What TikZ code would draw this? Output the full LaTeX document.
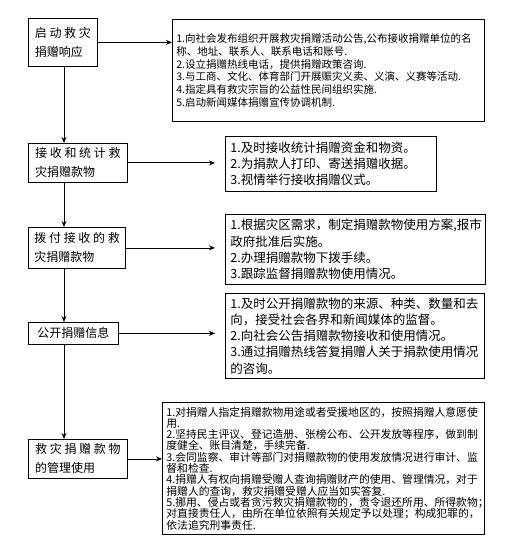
\documentclass[tikz,border=0pt]{standalone}
\usepackage{fontspec}
\newfontfamily\cjk{Noto Sans CJK SC}
\usetikzlibrary{arrows.meta}

\begin{document}
\begin{tikzpicture}[
  x=1pt,
  y=-1pt,
  stage/.style={draw,line width=.8pt,anchor=north west,align=left,
    inner xsep=6pt,font=\cjk\fontsize{12}{19}\selectfont},
  note/.style={draw,line width=.8pt,anchor=north west,align=left,
    inner xsep=5pt,inner ysep=3pt},
  bignote/.style={note,font=\cjk\fontsize{12.5}{16.3}\selectfont},
  smallnote/.style={note,inner xsep=4pt},
  link/.style={line width=.8pt,-{Stealth[length=6pt,width=5pt]}}
]
\path[fill=white,use as bounding box] (0,0) rectangle (526,553);

% left column: the five stages
\node[stage,minimum width=69pt,minimum height=48pt] (launch) at (28,18)
  {启 动 救 灾\\捐赠响应};
\node[stage,minimum width=99pt,minimum height=39pt] (collect) at (28,143)
  {接 收 和 统 计 救\\灾捐赠款物};
\node[stage,minimum width=97pt,minimum height=41pt] (allot) at (28,227)
  {拨 付 接 收 的 救\\灾捐赠款物};
\node[stage,minimum width=90pt,minimum height=22pt] (publish) at (28,322)
  {公开捐赠信息};
\node[stage,minimum width=99pt,minimum height=39pt] (manage) at (28,439)
  {救 灾 捐 赠 款 物\\的管理使用};

% right column: what each stage does
\node[smallnote,font=\cjk\fontsize{10.5}{12.8}\selectfont,
  text width=304pt,minimum height=102pt] (launchnote) at (172,19)
  {1.向社会发布组织开展救灾捐赠活动公告,公布接收捐赠单位的名\\
   称、地址、联系人、联系电话和账号.\\
   2.设立捐赠热线电话，提供捐赠政策咨询.\\
   3.与工商、文化、体育部门开展赈灾义卖、义演、义赛等活动.\\
   4.指定具有救灾宗旨的公益性民间组织实施.\\
   5.启动新闻媒体捐赠宣传协调机制.};
\node[bignote,text width=201pt,minimum height=55pt] (collectnote) at (225,136)
  {1.及时接收统计捐赠资金和物资。\\
   2.为捐款人打印、寄送捐赠收据。\\
   3.视情举行接收捐赠仪式。};
\node[bignote,text width=250pt,minimum height=70pt] (allotnote) at (225,214)
  {1.根据灾区需求，制定捐赠款物使用方案,报市\\
   政府批准后实施。\\
   2.办理捐赠款物下拨手续。\\
   3.跟踪监督捐赠款物使用情况。};
\node[bignote,text width=249pt,minimum height=85pt] (publishnote) at (225,293)
  {1.及时公开捐赠款物的来源、种类、数量和去\\
   向，接受社会各界和新闻媒体的监督。\\
   2.向社会公告捐赠款物接收和使用情况。\\
   3.通过捐赠热线答复捐赠人关于捐款使用情况\\
   的咨询。};
\node[smallnote,font=\cjk\fontsize{10.8}{11.3}\selectfont,
  text width=314pt,minimum height=132pt] (managenote) at (162,402)
  {1.对捐赠人指定捐赠款物用途或者受援地区的，按照捐赠人意愿使\\
   用.\\
   2.坚持民主评议、登记造册、张榜公布、公开发放等程序，做到制\\
   度健全、账目清楚，手续完备.\\
   3.会同监察、审计等部门对捐赠款物的使用发放情况进行审计、监\\
   督和检查.\\
   4.捐赠人有权向捐赠受赠人查询捐赠财产的使用、管理情况，对于\\
   捐赠人的查询，救灾捐赠受赠人应当如实答复.\\
   5.挪用、侵占或者贪污救灾捐赠款物的，责令退还所用、所得款物；\\
   对直接责任人，由所在单位依照有关规定予以处理；构成犯罪的，\\
   依法追究刑事责任.};

% connectors
\coordinate (spine) at (64,0);
\draw[link] (launch.south -| spine) -- (collect.north -| spine);
\draw[link] (collect.south -| spine) -- (allot.north -| spine);
\draw[link] (allot.south -| spine) -- (publish.north -| spine);
\draw[link] (publish.south -| spine) -- (manage.north -| spine);

\draw[link] (launch.east) -- (launch.east -| launchnote.west);
\draw[link,shorten >=10pt] (collect.east) -- (collect.east -| collectnote.west);
\draw[link,shorten >=10pt] (allot.east) -- (allot.east -| allotnote.west);
\draw[link,shorten >=10pt] (publish.east) -- (publish.east -| publishnote.west);
\draw[link] (manage.east) -- (manage.east -| managenote.west);
\end{tikzpicture}
\end{document}
